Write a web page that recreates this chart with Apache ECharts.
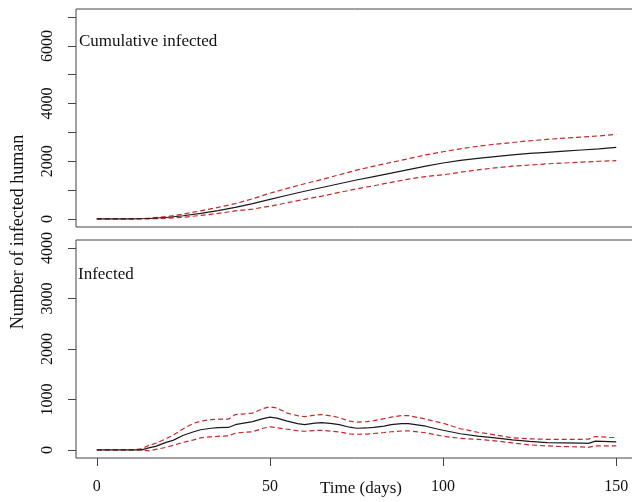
<!DOCTYPE html>
<html>
<head>
<meta charset="utf-8">
<script src="https://cdn.jsdelivr.net/npm/echarts@6/dist/echarts.min.js"></script>
<style>html,body{margin:0;padding:0;background:#fff;}#c{width:632px;height:502px;}</style>
</head>
<body>
<div id="c"></div>
<script>
// ---- data ----
const cumDays = [0,5,10,15,20,25,30,35,40,45,50,55,60,65,70,75,80,85,90,95,100,105,110,115,120,125,130,135,140,145,150];
const cumMean = [0,0,0,15,50,110,190,290,400,530,680,820,960,1090,1220,1350,1470,1590,1710,1830,1940,2030,2100,2160,2220,2270,2310,2350,2390,2430,2480];
const cumUpper = [0,0,0,25,80,170,280,400,530,700,890,1060,1220,1370,1530,1690,1830,1960,2090,2220,2330,2430,2520,2590,2650,2710,2760,2800,2840,2880,2930];
const cumLower = [0,0,0,5,20,60,120,190,280,340,440,560,680,790,920,1040,1150,1270,1380,1470,1530,1620,1700,1770,1830,1870,1910,1940,1970,2000,2020];

const infDays = [0,5,10,13,15,17,20,22,25,28,30,33,35,38,40,42,45,48,50,52,55,58,60,63,65,68,70,73,75,78,80,83,85,88,90,93,95,98,100,105,110,115,120,125,130,135,140,142,144,146,148,150];
const infMean = [0,0,0,0,40,70,150,190,290,360,400,430,440,445,500,525,560,620,650,630,570,520,500,530,540,520,500,450,430,435,445,470,500,520,520,490,470,420,390,320,275,240,200,170,145,140,135,130,175,170,165,160];
const infUpper = [0,0,0,20,90,130,220,290,420,530,570,600,610,610,700,710,730,820,855,830,730,680,660,690,700,670,640,570,550,560,580,620,650,680,680,640,610,560,530,420,350,300,240,220,210,210,210,215,265,260,250,245];
const infLower = [0,0,0,0,-20,10,50,90,150,200,240,260,270,280,330,345,360,430,457,440,410,380,370,385,390,370,355,320,310,315,325,345,360,375,378,355,340,300,270,230,210,180,140,100,80,65,60,50,80,80,80,80];

const xTicks = [0,50,100,150];
const cumYTicks = [0,1000,2000,3000,4000,5000,6000,7000];
const cumYLabels = [0,2000,4000,6000];
const infYTicks = [0,1000,2000,3000,4000];
const infYLabels = [0,1000,2000,3000,4000];

const panelTitles = ['Cumulative infected', 'Infected'];
const xName = 'Time (days)';
const yName = 'Number of infected human';

// ---- chart ----
const FONT = '"Liberation Serif", "Times New Roman", serif';
const AX = '#444';
const RED = '#c62828';
const pairs = (xs, ys) => xs.map((x, i) => [x, ys[i]]);
const plain = v => String(Math.round(v));

const chart = echarts.init(document.getElementById('c'), null, {renderer: 'canvas'});

function xAxisCfg(gi, showLabels) {
  return {
    type: 'value', gridIndex: gi, min: -6, max: 156,
    axisLine: {show: false, onZero: false},
    splitLine: {show: false},
    axisTick: {show: showLabels, length: 8, lineStyle: {color: AX}, customValues: xTicks},
    axisLabel: {show: showLabels, customValues: xTicks, margin: 21, formatter: plain,
      fontFamily: FONT, fontSize: 16, color: '#111'}
  };
}
function yAxisCfg(gi, min, max, ticks, labels) {
  return {
    type: 'value', gridIndex: gi, min: min, max: max,
    axisLine: {show: false, onZero: false},
    splitLine: {show: false},
    axisTick: {show: true, length: 8, lineStyle: {color: AX}, customValues: ticks},
    axisLabel: {show: true, customValues: labels, rotate: 90, margin: 20, formatter: plain,
      fontFamily: FONT, fontSize: 16, color: '#111'}
  };
}
function lineSeries(gi, data, dashed) {
  return {
    type: 'line', xAxisIndex: gi, yAxisIndex: gi, data: data,
    symbol: 'none', silent: true,
    lineStyle: dashed ? {color: RED, width: 1.2, type: [5, 3]} : {color: '#1a1a1a', width: 1.2},
    z: dashed ? 2 : 3
  };
}

chart.setOption({
  animation: false,
  backgroundColor: '#fff',
  grid: [
    {left: 76, top: 9, width: 561, height: 218, show: true, borderColor: AX, borderWidth: 1, backgroundColor: 'transparent', outerBoundsMode: 'none', containLabel: false},
    {left: 76, top: 240, width: 561, height: 218, show: true, borderColor: AX, borderWidth: 1, backgroundColor: 'transparent', outerBoundsMode: 'none', containLabel: false}
  ],
  xAxis: [xAxisCfg(0, false), xAxisCfg(1, true)],
  yAxis: [
    yAxisCfg(0, -280, 7280, cumYTicks, cumYLabels),
    yAxisCfg(1, -160, 4160, infYTicks, infYLabels)
  ],
  series: [
    lineSeries(0, pairs(cumDays, cumUpper), true),
    lineSeries(0, pairs(cumDays, cumLower), true),
    lineSeries(0, pairs(cumDays, cumMean), false),
    lineSeries(1, pairs(infDays, infUpper), true),
    lineSeries(1, pairs(infDays, infLower), true),
    lineSeries(1, pairs(infDays, infMean), false)
  ],
  graphic: [
    {type: 'text', x: 79, y: 42, style: {text: panelTitles[0], font: '17px ' + FONT, fill: '#111', textVerticalAlign: 'middle'}},
    {type: 'text', x: 78, y: 275, style: {text: panelTitles[1], font: '17px ' + FONT, fill: '#111', textVerticalAlign: 'middle'}},
    {type: 'text', x: 361, y: 489, style: {text: xName, font: '17px ' + FONT, fill: '#111', textAlign: 'center', textVerticalAlign: 'middle'}},
    {type: 'text', x: 18, y: 232, rotation: Math.PI / 2, style: {text: yName, font: '18px ' + FONT, fill: '#111', textAlign: 'center', textVerticalAlign: 'middle'}}
  ]
});
</script>
</body>
</html>
